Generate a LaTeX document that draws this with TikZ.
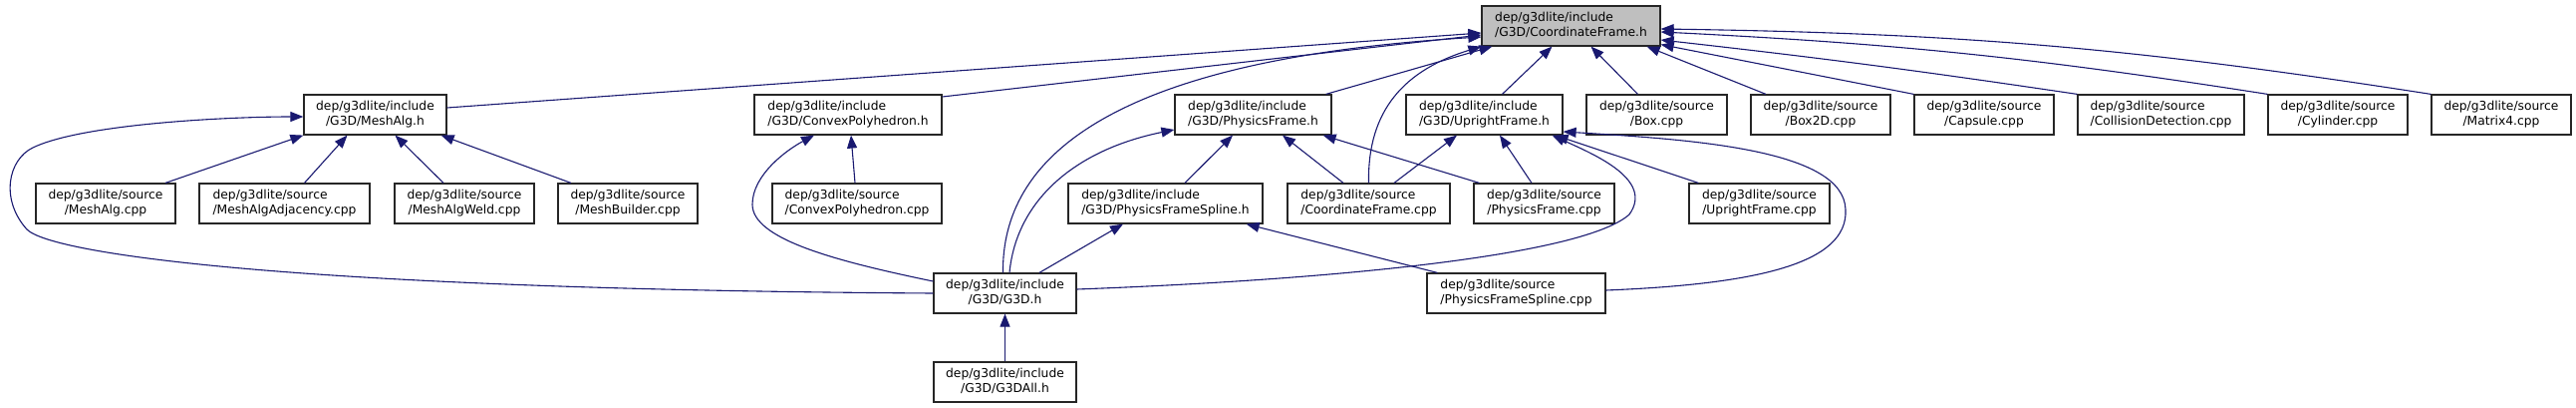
\documentclass[tikz,border=0pt]{standalone}
\usepackage{fontspec}
\setmainfont{DejaVu Sans}
\usetikzlibrary{arrows.meta}
\definecolor{edgeblue}{RGB}{25,25,112}
\definecolor{cfgray}{RGB}{191,191,191}
\newcommand{\flbl}[2]{\begin{tabular}{@{}c@{}}\multicolumn{1}{@{}l@{}}{#1}\\#2\end{tabular}}

\begin{document}
\begin{tikzpicture}[x=1pt,y=-1pt]
	\tikzstyle{file}=[draw=black!85,line width=1.2pt,fill=white,inner xsep=4pt,inner ysep=0pt,minimum height=40pt,font=\fontsize{12.3}{14.5}\selectfont];
	\tikzstyle{inc}=[draw=edgeblue,line width=1.1pt,{Triangle[length=13pt,width=10pt]}-];
	\useasboundingbox (0,0) rectangle (2585,409);
	% top
	\path (1576.5,26) node[file,fill=cfgray,minimum width=179pt] (cf) {\flbl{dep/g3dlite/include}{/G3D/CoordinateFrame.h}};
	% row 1
	\path (376.5,115)  node[file,minimum width=143pt] (ma)    {\flbl{dep/g3dlite/include}{/G3D/MeshAlg.h}};
	\path (851,115)    node[file,minimum width=188pt] (cph)   {\flbl{dep/g3dlite/include}{/G3D/ConvexPolyhedron.h}};
	\path (1257.5,115) node[file,minimum width=157pt] (pfh)   {\flbl{dep/g3dlite/include}{/G3D/PhysicsFrame.h}};
	\path (1489.5,115) node[file,minimum width=157pt] (ufh)   {\flbl{dep/g3dlite/include}{/G3D/UprightFrame.h}};
	\path (1662.5,115) node[file,minimum width=141pt] (box)   {\flbl{dep/g3dlite/source}{/Box.cpp}};
	\path (1827,115)   node[file,minimum width=140pt] (bxtd)  {\flbl{dep/g3dlite/source}{/Box2D.cpp}};
	\path (1991,115)   node[file,minimum width=140pt] (cap)   {\flbl{dep/g3dlite/source}{/Capsule.cpp}};
	\path (2168.5,115) node[file,minimum width=167pt] (col)   {\flbl{dep/g3dlite/source}{/CollisionDetection.cpp}};
	\path (2346,115)   node[file,minimum width=140pt] (cyl)   {\flbl{dep/g3dlite/source}{/Cylinder.cpp}};
	\path (2510,115)   node[file,minimum width=140pt] (mfour) {\flbl{dep/g3dlite/source}{/Matrix4.cpp}};
	% row 2
	\path (106,204)    node[file,minimum width=140pt] (mac)   {\flbl{dep/g3dlite/source}{/MeshAlg.cpp}};
	\path (285.5,204)  node[file,minimum width=171pt] (maadj) {\flbl{dep/g3dlite/source}{/MeshAlgAdjacency.cpp}};
	\path (466,204)    node[file,minimum width=140pt] (maw)   {\flbl{dep/g3dlite/source}{/MeshAlgWeld.cpp}};
	\path (630,204)    node[file,minimum width=140pt] (mab)   {\flbl{dep/g3dlite/source}{/MeshBuilder.cpp}};
	\path (860,204)    node[file,minimum width=170pt] (cpc)   {\flbl{dep/g3dlite/source}{/ConvexPolyhedron.cpp}};
	\path (1169.5,204) node[file,minimum width=195pt] (pfsh)  {\flbl{dep/g3dlite/include}{/G3D/PhysicsFrameSpline.h}};
	\path (1373.5,204) node[file,minimum width=163pt] (cfc)   {\flbl{dep/g3dlite/source}{/CoordinateFrame.cpp}};
	\path (1549.5,204) node[file,minimum width=141pt] (pfc)   {\flbl{dep/g3dlite/source}{/PhysicsFrame.cpp}};
	\path (1765.5,204) node[file,minimum width=141pt] (ufc)   {\flbl{dep/g3dlite/source}{/UprightFrame.cpp}};
	% row 3 and 4
	\path (1008.5,294) node[file,minimum width=143pt] (g3d)   {\flbl{dep/g3dlite/include}{/G3D/G3D.h}};
	\path (1521.5,294) node[file,minimum width=179pt] (pfsc)  {\flbl{dep/g3dlite/source}{/PhysicsFrameSpline.cpp}};
	\path (1008.5,383) node[file,minimum width=143pt] (g3dall) {\flbl{dep/g3dlite/include}{/G3D/G3DAll.h}};
	% into CoordinateFrame.h
	\draw[inc] ([yshift=-7pt]cf.west) -- ([yshift=7pt]ma.east);
	\draw[inc] ([yshift=-9pt]cf.west) -- ([yshift=18pt]cph.east);
	\draw[inc] ([yshift=-11pt]cf.west) .. controls (1110,60) and (1005,160) .. ([xshift=-2pt]g3d.north);
	\draw[inc] ([xshift=11pt]cf.south west) -- ([xshift=-6pt]pfh.north east);
	\draw[inc] (cf.south west) .. controls (1410,70) and (1372,110) .. (cfc.north);
	\draw[inc] ([xshift=-19pt]cf.south) -- ([xshift=18pt]ufh.north);
	\draw[inc] ([xshift=20pt]cf.south) -- ([xshift=-19pt]box.north);
	\draw[inc] ([xshift=-14pt]cf.south east) -- ([xshift=-55pt]bxtd.north);
	\draw[inc] ([yshift=2pt]cf.south east) -- (cap.north west);
	\draw[inc] ([yshift=-14pt]cf.east) to[bend left=1] (col.north west);
	\draw[inc] ([yshift=-6pt]cf.east) to[bend left=3] (cyl.north west);
	\draw[inc] ([yshift=-3pt]cf.east) to[bend left=4] (mfour.north west);
	% into MeshAlg.h
	\draw[inc] (ma.south west) -- ([xshift=60pt]mac.north);
	\draw[inc] ([xshift=-28pt]ma.south) -- ([xshift=20pt]maadj.north);
	\draw[inc] ([xshift=20pt]ma.south) -- ([xshift=-21pt]maw.north);
	\draw[inc] ([xshift=-6pt]ma.south east) -- ([xshift=-57pt]mab.north);
	\draw[inc] ([yshift=-2pt]ma.west) .. controls (230,117) and (83,124) .. (33,148) .. controls (8,160) and (0,200) .. (27,230) .. controls (52,255) and (300,290) .. (g3d.west);
	% into ConvexPolyhedron.h
	\draw[inc] ([xshift=3pt]cph.south) -- ([xshift=-2pt]cpc.north);
	\draw[inc] ([xshift=-34pt]cph.south) .. controls (790,150) and (755,175) .. (755,205) .. controls (755,240) and (840,262) .. ([yshift=12pt]g3d.west);
	% into PhysicsFrame.h
	\draw[inc] ([xshift=-20.5pt]pfh.south) -- ([xshift=19.5pt]pfsh.north);
	\draw[inc] ([xshift=29.5pt]pfh.south) -- ([xshift=-25.5pt]cfc.north);
	\draw[inc] ([xshift=-9pt]pfh.south east) -- ([xshift=6pt]pfc.north west);
	\draw[inc] ([yshift=-15pt]pfh.west) .. controls (1080,150) and (1020,200) .. ([xshift=4.5pt]g3d.north);
	% into UprightFrame.h
	\draw[inc] ([xshift=-27.5pt]ufh.south) -- ([xshift=25.5pt]cfc.north);
	\draw[inc] ([xshift=15.5pt]ufh.south) -- ([xshift=-12.5pt]pfc.north);
	\draw[inc] ([xshift=-8pt]ufh.south east) -- ([xshift=10pt]ufc.north west);
	\draw[inc] ([xshift=-11pt]ufh.south east) .. controls (1600,155) and (1660,180) .. (1635,215) .. controls (1590,255) and (1350,280) .. ([yshift=4pt]g3d.east);
	\draw[inc] ([yshift=-17pt]ufh.east) .. controls (1700,140) and (1850,150) .. (1852,210) .. controls (1855,265) and (1760,285) .. ([yshift=3pt]pfsc.east);
	% into PhysicsFrameSpline.h and G3D.h
	\draw[inc] ([xshift=-42.5pt]pfsh.south) -- ([xshift=34.5pt]g3d.north);
	\draw[inc] ([xshift=-17pt]pfsh.south east) -- ([xshift=11pt]pfsc.north west);
	\draw[inc] (g3d.south) -- (g3dall.north);
\end{tikzpicture}
\end{document}
